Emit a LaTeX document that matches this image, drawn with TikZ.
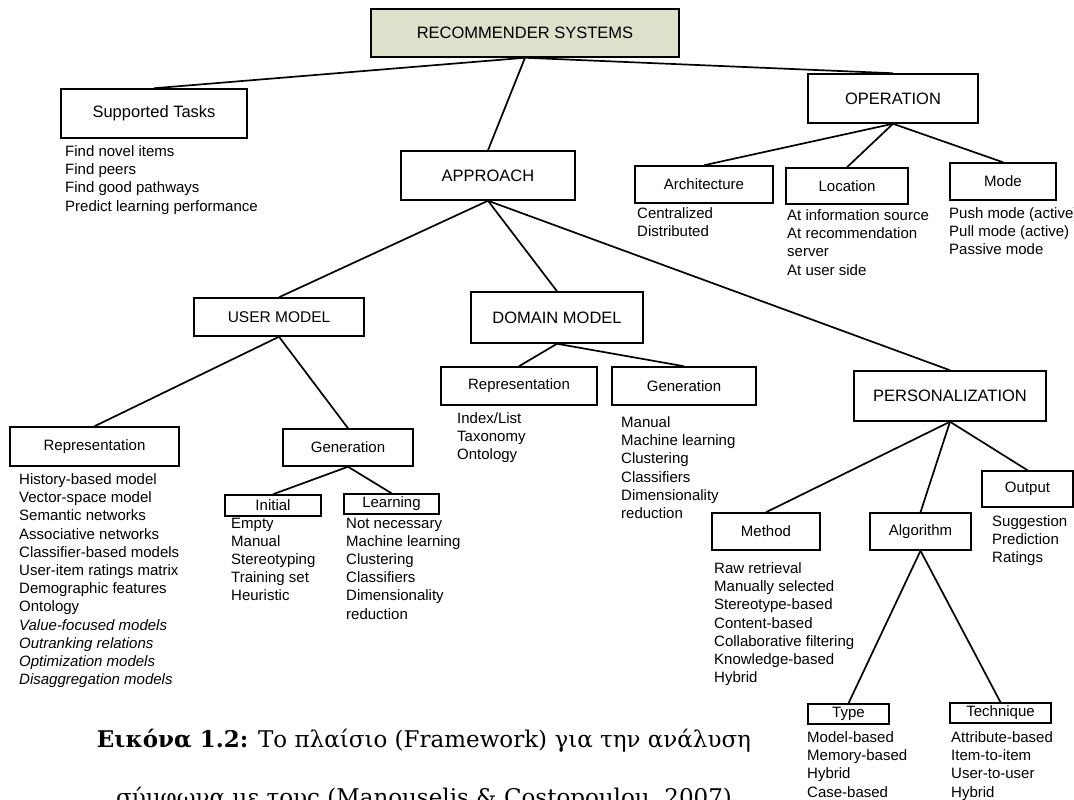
\documentclass[tikz,border=0pt]{standalone}
\usepackage{fontspec}
\setmainfont{Liberation Sans}
\newfontfamily\capfont{DejaVu Serif}
\definecolor{rootfill}{RGB}{221,225,204}
\begin{document}
\begin{tikzpicture}[x=1pt,y=-1pt,
  box/.style={draw, line width=1.5pt, inner sep=0pt, font=\fontsize{15}{18}\selectfont},
  bigbox/.style={box, font=\fontsize{16.5}{20}\selectfont},
  items/.style={anchor=north west, align=left, inner sep=0pt, font=\fontsize{15}{18.2}\selectfont},
  link/.style={line width=1.7pt},
  capline/.style={anchor=base, inner sep=0pt, font=\capfont\fontsize{23}{30}\selectfont}]
\useasboundingbox (0,0) rectangle (1074,800);
\clip (0,0) rectangle (1074,800);

% ---- boxes ----
\node[bigbox, fill=rootfill, minimum width=308pt, minimum height=48pt] (root) at (525,33) {RECOMMENDER SYSTEMS};
\node[bigbox, minimum width=186pt, minimum height=49pt] (tasks) at (154,113.5) {Supported Tasks};
\node[bigbox, minimum width=170pt, minimum height=49pt] (oper) at (893,98.5) {OPERATION};
\node[bigbox, minimum width=174pt, minimum height=49pt] (appr) at (488,175.5) {APPROACH};

\node[box, minimum width=138pt, minimum height=37pt] (arch) at (704,184.5) {Architecture};
\node[box, minimum width=122pt, minimum height=36pt] (loc) at (847,186) {Location};
\node[box, minimum width=106pt, minimum height=37pt] (mode) at (1003,181.5) {Mode};

\node[bigbox, minimum width=170pt, minimum height=38pt, font=\fontsize{15.5}{19}\selectfont] (user) at (279,317) {USER MODEL};
\node[bigbox, minimum width=172pt, minimum height=51pt] (dom) at (557,317.5) {DOMAIN MODEL};
\node[bigbox, minimum width=192pt, minimum height=50pt] (pers) at (950,396) {PERSONALIZATION};

\node[box, minimum width=156pt, minimum height=38pt] (drep) at (519,386) {Representation};
\node[box, minimum width=144pt, minimum height=38pt] (dgen) at (684,386) {Generation};

\node[box, minimum width=169pt, minimum height=39pt] (urep) at (94.5,446.5) {Representation};
\node[box, minimum width=130pt, minimum height=37pt] (ugen) at (348,447.5) {Generation};
\node[box, minimum width=96pt, minimum height=21pt] (init) at (273,505.5) {Initial};
\node[box, minimum width=95pt, minimum height=20pt] (lrn) at (391.5,504) {Learning};

\node[box, minimum width=91pt, minimum height=36pt] (out) at (1027.5,489) {Output};
\node[box, minimum width=108pt, minimum height=37pt] (meth) at (766,531.5) {Method};
\node[box, minimum width=101pt, minimum height=37pt] (alg) at (920.5,531.5) {Algorithm};
\node[box, minimum width=81pt, minimum height=20pt] (type) at (848.5,714) {Type};
\node[box, minimum width=101pt, minimum height=20pt] (tech) at (1000.5,713) {Technique};

% ---- connectors ----
\draw[link] (root.south) -- (tasks.north);
\draw[link] (root.south) -- (appr.north);
\draw[link] (root.south) -- (oper.north);
\draw[link] (oper.south) -- (arch.north);
\draw[link] (oper.south) -- (loc.north);
\draw[link] (oper.south) -- (mode.north);
\draw[link] (appr.south) -- (user.north);
\draw[link] (appr.south) -- (dom.north);
\draw[link] (appr.south) -- (pers.north);
\draw[link] (user.south) -- (urep.north);
\draw[link] (user.south) -- (ugen.north);
\draw[link] (ugen.south) -- (init.north);
\draw[link] (ugen.south) -- (lrn.north);
\draw[link] (dom.south) -- (drep.north);
\draw[link] (dom.south) -- (dgen.north);
\draw[link] (pers.south) -- (meth.north);
\draw[link] (pers.south) -- (alg.north);
\draw[link] (pers.south) -- (out.north);
\draw[link] (alg.south) -- (type.north);
\draw[link] (alg.south) -- (tech.north);

% ---- item lists (top of first line) ----
\node[items] (tasksL) at (65,145.5) {Find novel items\\Find peers\\Find good pathways\\Predict learning performance};
\node[items] (archL) at (637,207.5) {Centralized\\Distributed};
\node[items] (locL) at (787,209.5) {At information source\\At recommendation\\server\\At user side};
\node[items] (modeL) at (949,207.5) {Push mode (active)\\Pull mode (active)\\Passive mode};
\node[items] (drepL) at (457,412.5) {Index/List\\Taxonomy\\Ontology};
\node[items] (dgenL) at (621,416.5) {Manual\\Machine learning\\Clustering\\Classifiers\\Dimensionality\\reduction};
\node[items] (urepL) at (19,473.5) {History-based model\\Vector-space model\\Semantic networks\\Associative networks\\Classifier-based models\\User-item ratings matrix\\Demographic features\\Ontology\\\textit{Value-focused models}\\\textit{Outranking relations}\\\textit{Optimization models}\\\textit{Disaggregation models}};
\node[items] (initL) at (231,517.5) {Empty\\Manual\\Stereotyping\\Training set\\Heuristic};
\node[items] (lrnL) at (346,517.5) {Not necessary\\Machine learning\\Clustering\\Classifiers\\Dimensionality\\reduction};
\node[items] (outL) at (992,515.5) {Suggestion\\Prediction\\Ratings};
\node[items] (methL) at (714,562.5) {Raw retrieval\\Manually selected\\Stereotype-based\\Content-based\\Collaborative filtering\\Knowledge-based\\Hybrid};
\node[items] (typeL) at (807,731.5) {Model-based\\Memory-based\\Hybrid\\Case-based};
\node[items] (techL) at (951,731.5) {Attribute-based\\Item-to-item\\User-to-user\\Hybrid};

% ---- caption ----
\node[capline] (cap1) at (424,747) {\textbf{Εικόνα 1.2:} Το πλαίσιο (Framework) για την ανάλυση};
\node[capline] (cap2) at (424,805) {σύμφωνα με τους (Manouselis \& Costopoulou, 2007)};
\end{tikzpicture}
\end{document}
